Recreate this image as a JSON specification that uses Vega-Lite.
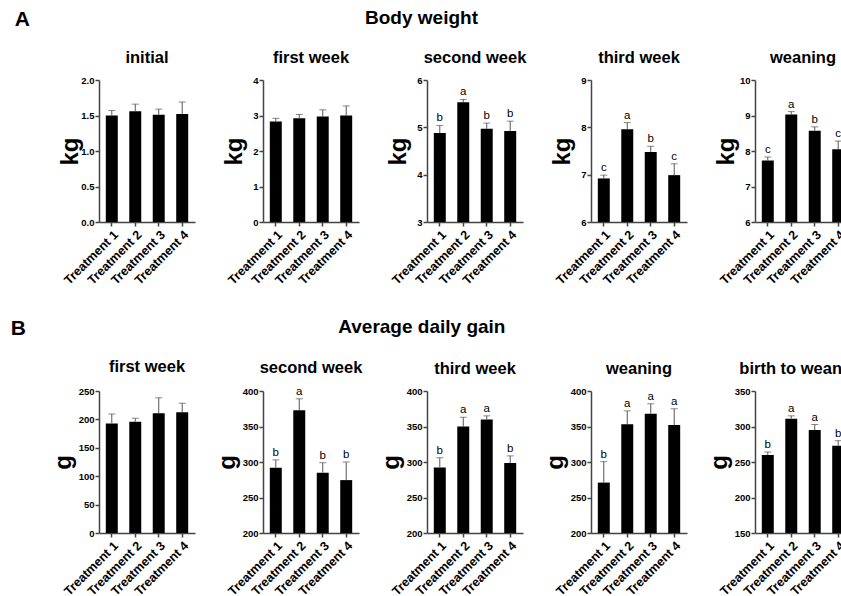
{
  "$schema": "https://vega.github.io/schema/vega-lite/v6.json",
  "padding": {"left": 10, "top": 8, "right": 0, "bottom": 0},
  "background": "white",
  "config": {
    "view": {"stroke": null},
    "font": "Liberation Sans",
    "title": {"font": "Liberation Sans", "fontWeight": "bold", "fontSize": 16.5, "color": "black", "offset": 9},
    "axis": {
      "grid": false,
      "domainColor": "#444",
      "tickColor": "#444",
      "domainWidth": 1.5,
      "tickWidth": 1.5,
      "labelFont": "Liberation Sans",
      "labelFontWeight": "bold",
      "labelColor": "black",
      "labelOverlap": false,
      "titleFont": "Liberation Sans",
      "titleFontWeight": "bold",
      "titleColor": "black"
    },
    "axisX": {"labelAngle": -45, "labelFontSize": 12.5, "tickSize": 4, "labelPadding": 2, "title": null},
    "axisY": {"labelFontSize": 9.5, "tickSize": 4, "labelPadding": 1, "titleFontSize": 24, "titlePadding": 0, "titleAngle": 270, "titleBaseline": "middle", "titleAlign": "center", "titleY": 71},
    "text": {"fill": "black"}
  },
  "datasets": {
    "d": [
      {"panel": "A1", "treatment": "Treatment 1", "value": 1.50, "upper": 1.57, "letter": ""},
      {"panel": "A1", "treatment": "Treatment 2", "value": 1.56, "upper": 1.66, "letter": ""},
      {"panel": "A1", "treatment": "Treatment 3", "value": 1.51, "upper": 1.59, "letter": ""},
      {"panel": "A1", "treatment": "Treatment 4", "value": 1.52, "upper": 1.69, "letter": ""},
      {"panel": "A2", "treatment": "Treatment 1", "value": 2.83, "upper": 2.92, "letter": ""},
      {"panel": "A2", "treatment": "Treatment 2", "value": 2.92, "upper": 3.03, "letter": ""},
      {"panel": "A2", "treatment": "Treatment 3", "value": 2.97, "upper": 3.16, "letter": ""},
      {"panel": "A2", "treatment": "Treatment 4", "value": 3.00, "upper": 3.27, "letter": ""},
      {"panel": "A3", "treatment": "Treatment 1", "value": 4.88, "upper": 5.04, "letter": "b"},
      {"panel": "A3", "treatment": "Treatment 2", "value": 5.53, "upper": 5.59, "letter": "a"},
      {"panel": "A3", "treatment": "Treatment 3", "value": 4.97, "upper": 5.09, "letter": "b"},
      {"panel": "A3", "treatment": "Treatment 4", "value": 4.92, "upper": 5.13, "letter": "b"},
      {"panel": "A4", "treatment": "Treatment 1", "value": 6.92, "upper": 6.99, "letter": "c"},
      {"panel": "A4", "treatment": "Treatment 2", "value": 7.96, "upper": 8.10, "letter": "a"},
      {"panel": "A4", "treatment": "Treatment 3", "value": 7.48, "upper": 7.60, "letter": "b"},
      {"panel": "A4", "treatment": "Treatment 4", "value": 6.99, "upper": 7.23, "letter": "c"},
      {"panel": "A5", "treatment": "Treatment 1", "value": 7.73, "upper": 7.83, "letter": "c"},
      {"panel": "A5", "treatment": "Treatment 2", "value": 9.03, "upper": 9.11, "letter": "a"},
      {"panel": "A5", "treatment": "Treatment 3", "value": 8.57, "upper": 8.68, "letter": "b"},
      {"panel": "A5", "treatment": "Treatment 4", "value": 8.05, "upper": 8.28, "letter": "c"},
      {"panel": "B1", "treatment": "Treatment 1", "value": 193, "upper": 209.5, "letter": ""},
      {"panel": "B1", "treatment": "Treatment 2", "value": 196, "upper": 202, "letter": ""},
      {"panel": "B1", "treatment": "Treatment 3", "value": 211, "upper": 238, "letter": ""},
      {"panel": "B1", "treatment": "Treatment 4", "value": 212.5, "upper": 228.5, "letter": ""},
      {"panel": "B2", "treatment": "Treatment 1", "value": 292, "upper": 303, "letter": "b"},
      {"panel": "B2", "treatment": "Treatment 2", "value": 373, "upper": 389, "letter": "a"},
      {"panel": "B2", "treatment": "Treatment 3", "value": 285, "upper": 299, "letter": "b"},
      {"panel": "B2", "treatment": "Treatment 4", "value": 274.5, "upper": 300, "letter": "b"},
      {"panel": "B3", "treatment": "Treatment 1", "value": 292.4, "upper": 306, "letter": "b"},
      {"panel": "B3", "treatment": "Treatment 2", "value": 350, "upper": 363, "letter": "a"},
      {"panel": "B3", "treatment": "Treatment 3", "value": 360, "upper": 365, "letter": "a"},
      {"panel": "B3", "treatment": "Treatment 4", "value": 298.6, "upper": 308.6, "letter": "b"},
      {"panel": "B4", "treatment": "Treatment 1", "value": 271, "upper": 300.5, "letter": "b"},
      {"panel": "B4", "treatment": "Treatment 2", "value": 353, "upper": 372, "letter": "a"},
      {"panel": "B4", "treatment": "Treatment 3", "value": 368, "upper": 382, "letter": "a"},
      {"panel": "B4", "treatment": "Treatment 4", "value": 352, "upper": 375, "letter": "a"},
      {"panel": "B5", "treatment": "Treatment 1", "value": 260, "upper": 264, "letter": "b"},
      {"panel": "B5", "treatment": "Treatment 2", "value": 311, "upper": 315, "letter": "a"},
      {"panel": "B5", "treatment": "Treatment 3", "value": 295, "upper": 302.8, "letter": "a"},
      {"panel": "B5", "treatment": "Treatment 4", "value": 273, "upper": 280, "letter": "b"}
    ]
  },
  "spacing": 31,
  "vconcat": [
    {
      "title": {"text": "A", "orient": "left", "angle": 0, "anchor": "end", "baseline": "top", "fontSize": 21, "offset": 13},
      "vconcat": [
        {
          "title": {"text": "Body weight", "anchor": "middle", "fontSize": 19, "dx": -33, "offset": 22},
          "bounds": "flush",
          "spacing": 68,
          "hconcat": [
            {"width": 96, "height": 142, "title": "initial", "data": {"name": "d"}, "transform": [{"filter": "datum.panel === 'A1'"}],
             "encoding": {"x": {"field": "treatment", "type": "nominal", "scale": {"paddingInner": 0.49, "paddingOuter": 0.29}}},
             "layer": [
               {"mark": {"type": "bar", "color": "black"}, "encoding": {"y": {"field": "value", "type": "quantitative", "scale": {"domain": [0, 2], "nice": false, "zero": false, "clamp": true}, "axis": {"title": "kg", "values": [0, 0.5, 1, 1.5, 2], "format": ".1f", "minExtent": 10, "maxExtent": 10, "titleX": -29}}}},
               {"mark": {"type": "rule", "color": "#555"}, "encoding": {"y": {"field": "value", "type": "quantitative", "axis": {"title": "kg", "values": [0, 0.5, 1, 1.5, 2], "format": ".1f", "minExtent": 10, "maxExtent": 10, "titleX": -29}}, "y2": {"field": "upper"}}},
               {"mark": {"type": "tick", "color": "#555", "size": 7, "thickness": 1}, "encoding": {"y": {"field": "upper", "type": "quantitative", "axis": {"title": "kg", "values": [0, 0.5, 1, 1.5, 2], "format": ".1f", "minExtent": 10, "maxExtent": 10, "titleX": -29}}}},
               {"mark": {"type": "text", "dy": -7, "fontSize": 11.5, "fill": "black", "font": "Liberation Sans"}, "encoding": {"y": {"field": "upper", "type": "quantitative", "axis": {"title": "kg", "values": [0, 0.5, 1, 1.5, 2], "format": ".1f", "minExtent": 10, "maxExtent": 10, "titleX": -29}}, "text": {"field": "letter"}}}
             ]},
            {"width": 96, "height": 142, "title": "first week", "data": {"name": "d"}, "transform": [{"filter": "datum.panel === 'A2'"}],
             "encoding": {"x": {"field": "treatment", "type": "nominal", "scale": {"paddingInner": 0.49, "paddingOuter": 0.29}}},
             "layer": [
               {"mark": {"type": "bar", "color": "black"}, "encoding": {"y": {"field": "value", "type": "quantitative", "scale": {"domain": [0, 4], "nice": false, "zero": false, "clamp": true}, "axis": {"title": "kg", "values": [0, 1, 2, 3, 4], "format": "d", "minExtent": 10, "maxExtent": 10, "titleX": -29}}}},
               {"mark": {"type": "rule", "color": "#555"}, "encoding": {"y": {"field": "value", "type": "quantitative", "axis": {"title": "kg", "values": [0, 1, 2, 3, 4], "format": "d", "minExtent": 10, "maxExtent": 10, "titleX": -29}}, "y2": {"field": "upper"}}},
               {"mark": {"type": "tick", "color": "#555", "size": 7, "thickness": 1}, "encoding": {"y": {"field": "upper", "type": "quantitative", "axis": {"title": "kg", "values": [0, 1, 2, 3, 4], "format": "d", "minExtent": 10, "maxExtent": 10, "titleX": -29}}}},
               {"mark": {"type": "text", "dy": -7, "fontSize": 11.5, "fill": "black", "font": "Liberation Sans"}, "encoding": {"y": {"field": "upper", "type": "quantitative", "axis": {"title": "kg", "values": [0, 1, 2, 3, 4], "format": "d", "minExtent": 10, "maxExtent": 10, "titleX": -29}}, "text": {"field": "letter"}}}
             ]},
            {"width": 96, "height": 142, "title": "second week", "data": {"name": "d"}, "transform": [{"filter": "datum.panel === 'A3'"}],
             "encoding": {"x": {"field": "treatment", "type": "nominal", "scale": {"paddingInner": 0.49, "paddingOuter": 0.29}}},
             "layer": [
               {"mark": {"type": "bar", "color": "black"}, "encoding": {"y": {"field": "value", "type": "quantitative", "scale": {"domain": [3, 6], "nice": false, "zero": false, "clamp": true}, "axis": {"title": "kg", "values": [3, 4, 5, 6], "format": "d", "minExtent": 10, "maxExtent": 10, "titleX": -29}}}},
               {"mark": {"type": "rule", "color": "#555"}, "encoding": {"y": {"field": "value", "type": "quantitative", "axis": {"title": "kg", "values": [3, 4, 5, 6], "format": "d", "minExtent": 10, "maxExtent": 10, "titleX": -29}}, "y2": {"field": "upper"}}},
               {"mark": {"type": "tick", "color": "#555", "size": 7, "thickness": 1}, "encoding": {"y": {"field": "upper", "type": "quantitative", "axis": {"title": "kg", "values": [3, 4, 5, 6], "format": "d", "minExtent": 10, "maxExtent": 10, "titleX": -29}}}},
               {"mark": {"type": "text", "dy": -7, "fontSize": 11.5, "fill": "black", "font": "Liberation Sans"}, "encoding": {"y": {"field": "upper", "type": "quantitative", "axis": {"title": "kg", "values": [3, 4, 5, 6], "format": "d", "minExtent": 10, "maxExtent": 10, "titleX": -29}}, "text": {"field": "letter"}}}
             ]},
            {"width": 96, "height": 142, "title": "third week", "data": {"name": "d"}, "transform": [{"filter": "datum.panel === 'A4'"}],
             "encoding": {"x": {"field": "treatment", "type": "nominal", "scale": {"paddingInner": 0.49, "paddingOuter": 0.29}}},
             "layer": [
               {"mark": {"type": "bar", "color": "black"}, "encoding": {"y": {"field": "value", "type": "quantitative", "scale": {"domain": [6, 9], "nice": false, "zero": false, "clamp": true}, "axis": {"title": "kg", "values": [6, 7, 8, 9], "format": "d", "minExtent": 10, "maxExtent": 10, "titleX": -29}}}},
               {"mark": {"type": "rule", "color": "#555"}, "encoding": {"y": {"field": "value", "type": "quantitative", "axis": {"title": "kg", "values": [6, 7, 8, 9], "format": "d", "minExtent": 10, "maxExtent": 10, "titleX": -29}}, "y2": {"field": "upper"}}},
               {"mark": {"type": "tick", "color": "#555", "size": 7, "thickness": 1}, "encoding": {"y": {"field": "upper", "type": "quantitative", "axis": {"title": "kg", "values": [6, 7, 8, 9], "format": "d", "minExtent": 10, "maxExtent": 10, "titleX": -29}}}},
               {"mark": {"type": "text", "dy": -7, "fontSize": 11.5, "fill": "black", "font": "Liberation Sans"}, "encoding": {"y": {"field": "upper", "type": "quantitative", "axis": {"title": "kg", "values": [6, 7, 8, 9], "format": "d", "minExtent": 10, "maxExtent": 10, "titleX": -29}}, "text": {"field": "letter"}}}
             ]},
            {"width": 96, "height": 142, "title": "weaning", "data": {"name": "d"}, "transform": [{"filter": "datum.panel === 'A5'"}],
             "encoding": {"x": {"field": "treatment", "type": "nominal", "scale": {"paddingInner": 0.49, "paddingOuter": 0.29}}},
             "layer": [
               {"mark": {"type": "bar", "color": "black"}, "encoding": {"y": {"field": "value", "type": "quantitative", "scale": {"domain": [6, 10], "nice": false, "zero": false, "clamp": true}, "axis": {"title": "kg", "values": [6, 7, 8, 9, 10], "format": "d", "minExtent": 10, "maxExtent": 10, "titleX": -29}}}},
               {"mark": {"type": "rule", "color": "#555"}, "encoding": {"y": {"field": "value", "type": "quantitative", "axis": {"title": "kg", "values": [6, 7, 8, 9, 10], "format": "d", "minExtent": 10, "maxExtent": 10, "titleX": -29}}, "y2": {"field": "upper"}}},
               {"mark": {"type": "tick", "color": "#555", "size": 7, "thickness": 1}, "encoding": {"y": {"field": "upper", "type": "quantitative", "axis": {"title": "kg", "values": [6, 7, 8, 9, 10], "format": "d", "minExtent": 10, "maxExtent": 10, "titleX": -29}}}},
               {"mark": {"type": "text", "dy": -7, "fontSize": 11.5, "fill": "black", "font": "Liberation Sans"}, "encoding": {"y": {"field": "upper", "type": "quantitative", "axis": {"title": "kg", "values": [6, 7, 8, 9, 10], "format": "d", "minExtent": 10, "maxExtent": 10, "titleX": -29}}, "text": {"field": "letter"}}}
             ]}
          ]
        }
      ]
    },
    {
      "title": {"text": "B", "orient": "left", "angle": 0, "anchor": "end", "baseline": "top", "fontSize": 21, "offset": 10},
      "vconcat": [
        {
          "title": {"text": "Average daily gain", "anchor": "middle", "fontSize": 19, "dx": -37, "offset": 22},
          "bounds": "flush",
          "spacing": 68,
          "hconcat": [
            {"width": 96, "height": 142, "title": "first week", "data": {"name": "d"}, "transform": [{"filter": "datum.panel === 'B1'"}],
             "encoding": {"x": {"field": "treatment", "type": "nominal", "scale": {"paddingInner": 0.49, "paddingOuter": 0.29}}},
             "layer": [
               {"mark": {"type": "bar", "color": "black"}, "encoding": {"y": {"field": "value", "type": "quantitative", "scale": {"domain": [0, 250], "nice": false, "zero": false, "clamp": true}, "axis": {"title": "g", "values": [0, 50, 100, 150, 200, 250], "format": "d", "minExtent": 16, "maxExtent": 16, "titleX": -36}}}},
               {"mark": {"type": "rule", "color": "#555"}, "encoding": {"y": {"field": "value", "type": "quantitative", "axis": {"title": "g", "values": [0, 50, 100, 150, 200, 250], "format": "d", "minExtent": 16, "maxExtent": 16, "titleX": -36}}, "y2": {"field": "upper"}}},
               {"mark": {"type": "tick", "color": "#555", "size": 7, "thickness": 1}, "encoding": {"y": {"field": "upper", "type": "quantitative", "axis": {"title": "g", "values": [0, 50, 100, 150, 200, 250], "format": "d", "minExtent": 16, "maxExtent": 16, "titleX": -36}}}},
               {"mark": {"type": "text", "dy": -7, "fontSize": 11.5, "fill": "black", "font": "Liberation Sans"}, "encoding": {"y": {"field": "upper", "type": "quantitative", "axis": {"title": "g", "values": [0, 50, 100, 150, 200, 250], "format": "d", "minExtent": 16, "maxExtent": 16, "titleX": -36}}, "text": {"field": "letter"}}}
             ]},
            {"width": 96, "height": 142, "title": "second week", "data": {"name": "d"}, "transform": [{"filter": "datum.panel === 'B2'"}],
             "encoding": {"x": {"field": "treatment", "type": "nominal", "scale": {"paddingInner": 0.49, "paddingOuter": 0.29}}},
             "layer": [
               {"mark": {"type": "bar", "color": "black"}, "encoding": {"y": {"field": "value", "type": "quantitative", "scale": {"domain": [200, 400], "nice": false, "zero": false, "clamp": true}, "axis": {"title": "g", "values": [200, 250, 300, 350, 400], "format": "d", "minExtent": 16, "maxExtent": 16, "titleX": -36}}}},
               {"mark": {"type": "rule", "color": "#555"}, "encoding": {"y": {"field": "value", "type": "quantitative", "axis": {"title": "g", "values": [200, 250, 300, 350, 400], "format": "d", "minExtent": 16, "maxExtent": 16, "titleX": -36}}, "y2": {"field": "upper"}}},
               {"mark": {"type": "tick", "color": "#555", "size": 7, "thickness": 1}, "encoding": {"y": {"field": "upper", "type": "quantitative", "axis": {"title": "g", "values": [200, 250, 300, 350, 400], "format": "d", "minExtent": 16, "maxExtent": 16, "titleX": -36}}}},
               {"mark": {"type": "text", "dy": -7, "fontSize": 11.5, "fill": "black", "font": "Liberation Sans"}, "encoding": {"y": {"field": "upper", "type": "quantitative", "axis": {"title": "g", "values": [200, 250, 300, 350, 400], "format": "d", "minExtent": 16, "maxExtent": 16, "titleX": -36}}, "text": {"field": "letter"}}}
             ]},
            {"width": 96, "height": 142, "title": "third week", "data": {"name": "d"}, "transform": [{"filter": "datum.panel === 'B3'"}],
             "encoding": {"x": {"field": "treatment", "type": "nominal", "scale": {"paddingInner": 0.49, "paddingOuter": 0.29}}},
             "layer": [
               {"mark": {"type": "bar", "color": "black"}, "encoding": {"y": {"field": "value", "type": "quantitative", "scale": {"domain": [200, 400], "nice": false, "zero": false, "clamp": true}, "axis": {"title": "g", "values": [200, 250, 300, 350, 400], "format": "d", "minExtent": 16, "maxExtent": 16, "titleX": -36}}}},
               {"mark": {"type": "rule", "color": "#555"}, "encoding": {"y": {"field": "value", "type": "quantitative", "axis": {"title": "g", "values": [200, 250, 300, 350, 400], "format": "d", "minExtent": 16, "maxExtent": 16, "titleX": -36}}, "y2": {"field": "upper"}}},
               {"mark": {"type": "tick", "color": "#555", "size": 7, "thickness": 1}, "encoding": {"y": {"field": "upper", "type": "quantitative", "axis": {"title": "g", "values": [200, 250, 300, 350, 400], "format": "d", "minExtent": 16, "maxExtent": 16, "titleX": -36}}}},
               {"mark": {"type": "text", "dy": -7, "fontSize": 11.5, "fill": "black", "font": "Liberation Sans"}, "encoding": {"y": {"field": "upper", "type": "quantitative", "axis": {"title": "g", "values": [200, 250, 300, 350, 400], "format": "d", "minExtent": 16, "maxExtent": 16, "titleX": -36}}, "text": {"field": "letter"}}}
             ]},
            {"width": 96, "height": 142, "title": "weaning", "data": {"name": "d"}, "transform": [{"filter": "datum.panel === 'B4'"}],
             "encoding": {"x": {"field": "treatment", "type": "nominal", "scale": {"paddingInner": 0.49, "paddingOuter": 0.29}}},
             "layer": [
               {"mark": {"type": "bar", "color": "black"}, "encoding": {"y": {"field": "value", "type": "quantitative", "scale": {"domain": [200, 400], "nice": false, "zero": false, "clamp": true}, "axis": {"title": "g", "values": [200, 250, 300, 350, 400], "format": "d", "minExtent": 16, "maxExtent": 16, "titleX": -36}}}},
               {"mark": {"type": "rule", "color": "#555"}, "encoding": {"y": {"field": "value", "type": "quantitative", "axis": {"title": "g", "values": [200, 250, 300, 350, 400], "format": "d", "minExtent": 16, "maxExtent": 16, "titleX": -36}}, "y2": {"field": "upper"}}},
               {"mark": {"type": "tick", "color": "#555", "size": 7, "thickness": 1}, "encoding": {"y": {"field": "upper", "type": "quantitative", "axis": {"title": "g", "values": [200, 250, 300, 350, 400], "format": "d", "minExtent": 16, "maxExtent": 16, "titleX": -36}}}},
               {"mark": {"type": "text", "dy": -7, "fontSize": 11.5, "fill": "black", "font": "Liberation Sans"}, "encoding": {"y": {"field": "upper", "type": "quantitative", "axis": {"title": "g", "values": [200, 250, 300, 350, 400], "format": "d", "minExtent": 16, "maxExtent": 16, "titleX": -36}}, "text": {"field": "letter"}}}
             ]},
            {"width": 96, "height": 142, "title": "birth to weaning", "data": {"name": "d"}, "transform": [{"filter": "datum.panel === 'B5'"}],
             "encoding": {"x": {"field": "treatment", "type": "nominal", "scale": {"paddingInner": 0.49, "paddingOuter": 0.29}}},
             "layer": [
               {"mark": {"type": "bar", "color": "black"}, "encoding": {"y": {"field": "value", "type": "quantitative", "scale": {"domain": [150, 350], "nice": false, "zero": false, "clamp": true}, "axis": {"title": "g", "values": [150, 200, 250, 300, 350], "format": "d", "minExtent": 16, "maxExtent": 16, "titleX": -36}}}},
               {"mark": {"type": "rule", "color": "#555"}, "encoding": {"y": {"field": "value", "type": "quantitative", "axis": {"title": "g", "values": [150, 200, 250, 300, 350], "format": "d", "minExtent": 16, "maxExtent": 16, "titleX": -36}}, "y2": {"field": "upper"}}},
               {"mark": {"type": "tick", "color": "#555", "size": 7, "thickness": 1}, "encoding": {"y": {"field": "upper", "type": "quantitative", "axis": {"title": "g", "values": [150, 200, 250, 300, 350], "format": "d", "minExtent": 16, "maxExtent": 16, "titleX": -36}}}},
               {"mark": {"type": "text", "dy": -7, "fontSize": 11.5, "fill": "black", "font": "Liberation Sans"}, "encoding": {"y": {"field": "upper", "type": "quantitative", "axis": {"title": "g", "values": [150, 200, 250, 300, 350], "format": "d", "minExtent": 16, "maxExtent": 16, "titleX": -36}}, "text": {"field": "letter"}}}
             ]}
          ]
        }
      ]
    }
  ]
}
